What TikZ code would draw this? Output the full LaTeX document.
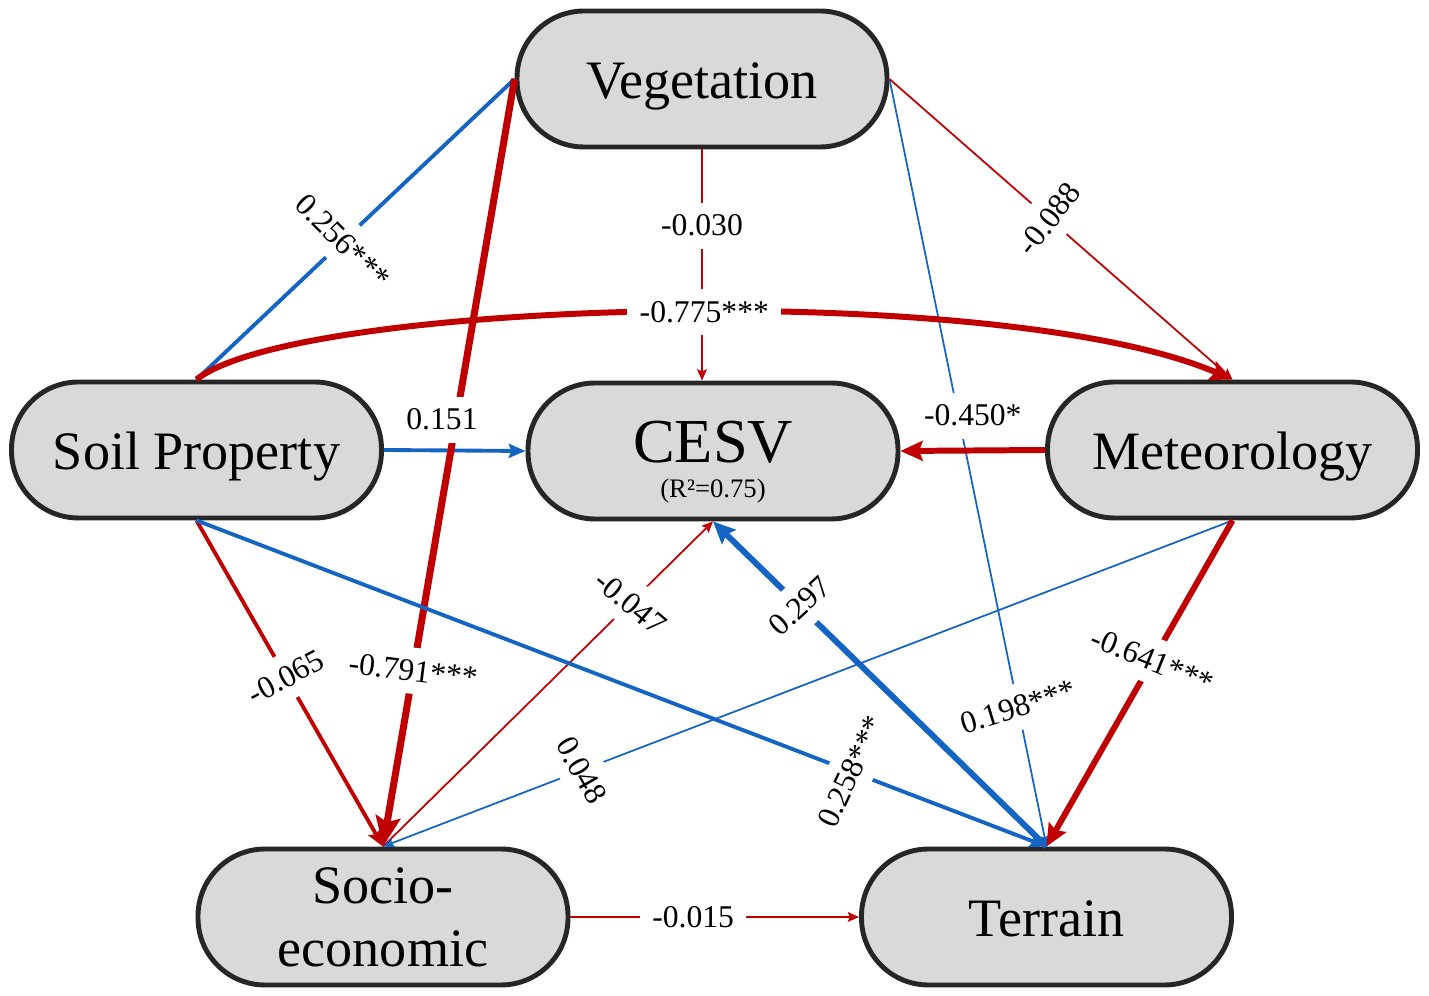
\documentclass[tikz,border=0pt]{standalone}
\usepackage{fontspec}
\setmainfont{Liberation Serif}
\usepackage{tikz}
\usetikzlibrary{arrows.meta}

\definecolor{negred}{RGB}{192,0,0}
\definecolor{posblue}{RGB}{20,100,195}
\definecolor{boxgray}{RGB}{217,217,217}

\tikzset{
  box/.style={draw=black!85, line width=1.4pt, fill=boxgray, rounded corners=0.67cm,
    minimum width=3.7cm, minimum height=1.36cm, inner sep=2pt, align=center,
    font=\fontsize{15.4}{18}\selectfont},
  oneline/.style={text height=14.4pt, text depth=3.4pt},
  coef/.style={fill=white, inner sep=3.5pt, font=\fontsize{9}{10}\selectfont},
  negline/.style={draw=negred},
  posline/.style={draw=posblue},
  weak/.style={line width=0.5pt, -{Stealth[length=3.2pt, width=2.8pt, inset=0.6pt]}},
  medium/.style={line width=1.1pt, -{Stealth[length=4.8pt, width=4pt, inset=0.8pt]}},
  strong/.style={line width=1.7pt, -{Stealth[length=6.3pt, width=5.6pt, inset=1pt]}},
}

\begin{document}
\begin{tikzpicture}
%%Frame
\useasboundingbox (0,0) rectangle (14.29,9.96);
%%Nodes
\node[box, oneline] (veg) at (7.02,9.17) {Vegetation};
\node[box, font=\fontsize{17.8}{10}\selectfont] (cesv) at (7.13,5.45)
  {\rule{0pt}{18pt}CESV\\{\fontsize{7.6}{9}\selectfont(R²=0.75)}};
\node[box, oneline] (soil) at (1.965,5.46) {Soil Property};
\node[box, oneline] (met) at (12.325,5.46) {Meteorology};
\node[box] (socio) at (3.83,0.79) {Socio-\\economic};
\node[box, oneline] (terrain) at (10.465,0.79) {Terrain};

%%Paths from Vegetation
\draw[negline, weak] (veg.south) -- node[coef, pos=0.33] {-0.030} (veg.south |- cesv.north);
\draw[posline, weak] (veg.east) -- node[coef, pos=0.818, rotate=17] {0.198***} (terrain.north);
\draw[posline, medium, -] (veg.west) -- node[coef, pos=0.54, rotate=-45] {0.256***} (soil.north);
\draw[posline, medium] (soil.east) -- coordinate[pos=0.41] (c151) (cesv.west);
\draw[negline, strong] (soil.north) .. controls +(1.0,0.8) and +(-2.32,1.0) ..
  node[coef, pos=0.53] {-0.775***} (met.north);
\draw[negline, strong, line width=2pt, -{Stealth[length=8.5pt, width=7pt, inset=1.5pt]}]
  (veg.west) -- node[coef, pos=0.771, rotate=-7] {-0.791***} (socio.north);
\node[coef, above=2pt] (l151) at (c151) {0.151};
\draw[negline, weak] (veg.east) -- node[coef, pos=0.465, rotate=52] {-0.088} (met.north);

%%Paths to CESV, Socio-economic and Terrain
\draw[negline, strong] (met.west) -- node[coef, above=2.5pt] {-0.450*} (cesv.east);
\draw[negline, medium] (soil.south) -- node[coef, pos=0.48, rotate=28] {-0.065} (socio.north);
\draw[negline, weak] (socio.north) -- node[coef, pos=0.75, rotate=-40] {-0.047} (cesv.south);
\draw[posline, medium] (soil.south) -- node[coef, pos=0.77, rotate=65] {0.258***} (terrain.north);
\draw[posline, weak] (met.south) -- node[coef, pos=0.766, rotate=-60] {0.048} (socio.north);
\draw[posline, strong] (terrain.north) -- node[coef, pos=0.74, rotate=43] {0.297} (cesv.south);
\draw[negline, strong] (met.south) -- node[coef, pos=0.43, rotate=-22] {-0.641***} (terrain.north);
\draw[negline, weak] (socio.east) -- node[coef, pos=0.425] {-0.015} (terrain.west);

\end{tikzpicture}
\end{document}
